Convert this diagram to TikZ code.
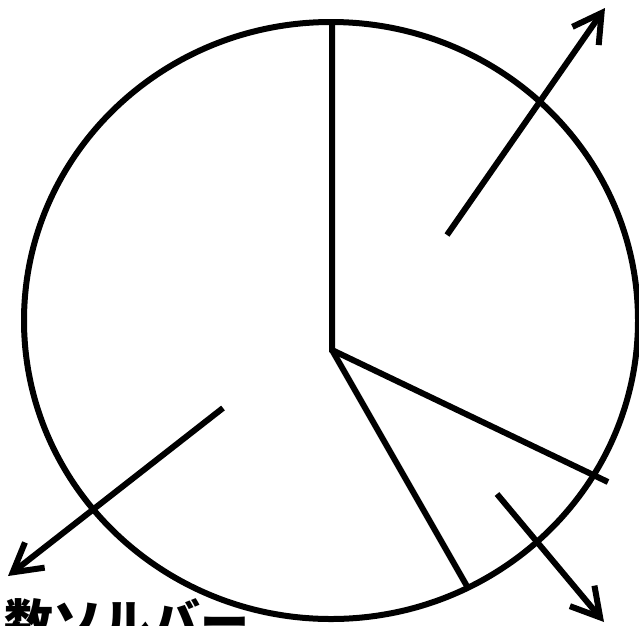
\documentclass[tikz,border=0pt]{standalone}
\usepackage{fontspec}
\newfontfamily\cjk{Noto Sans CJK JP}
\usetikzlibrary{arrows.meta}
\begin{document}
\begin{tikzpicture}[x=1pt,y=-1pt,
  ln/.style={line width=6pt, line cap=butt},
  arr/.style={ln, -{Straight Barb[length=28pt,width=32pt,line width=6pt]}}]
\useasboundingbox (0,0) rectangle (639,625);
\coordinate (c) at (331,320.5);
\coordinate (m) at (332,350);
\coordinate (top) at (332,22);
\coordinate (r1) at (608,482);
\coordinate (r2) at (468,588);
\draw[ln] (c) ellipse [x radius=307, y radius=298.5];
\draw[ln] (top) -- (m) -- (r1);
\draw[ln] (m) -- (r2);
\coordinate (a1s) at (447,235);
\coordinate (a1e) at (605,8);
\coordinate (a2s) at (223,408);
\coordinate (a2e) at (8,576);
\coordinate (a3s) at (497,494);
\coordinate (a3e) at (604,622);
\draw[arr] (a1s) -- (a1e);
\draw[arr] (a2s) -- (a2e);
\draw[arr] (a3s) -- (a3e);
\node[anchor=base west, inner sep=0pt, font=\cjk\bfseries\fontsize{49}{49}\selectfont] (lbl) at (4,640) {数ソルバー};
\end{tikzpicture}
\end{document}
